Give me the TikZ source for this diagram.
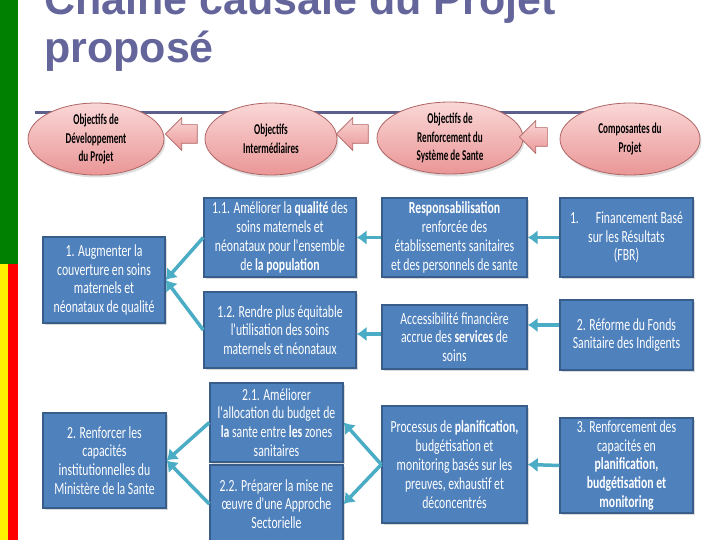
\documentclass[tikz,border=0pt]{standalone}
\usepackage{fontspec}
\setmainfont{Carlito}
\newfontfamily\titlefam{Liberation Sans}
\newfontfamily\boxfam[FakeStretch=0.69]{Carlito}
\newfontfamily\ellfam[FakeStretch=0.61]{Carlito}
\usetikzlibrary{shapes.geometric,shapes.arrows,shadows,arrows.meta}
\definecolor{titlecol}{RGB}{100,101,155}
\definecolor{bargreen}{RGB}{0,128,0}
\definecolor{boxblue}{RGB}{79,129,189}
\definecolor{boxedge}{RGB}{56,93,138}
\definecolor{teal}{RGB}{75,172,198}
\definecolor{pinktop}{RGB}{250,215,215}
\definecolor{pinkbot}{RGB}{234,150,150}
\definecolor{pinkedge}{RGB}{175,100,100}
\definecolor{slateline}{RGB}{92,95,140}
\tikzset{
  bluebox/.style={draw=boxedge, line width=1.4pt, fill=boxblue, text=white,
    align=center, inner sep=0pt, font=\boxfam\fontsize{17}{18.8}\selectfont,
    drop shadow={shadow xshift=2pt, shadow yshift=-2pt, opacity=0.3}},
  pinkell/.style={ellipse, draw=pinkedge, line width=0.8pt, top color=pinktop,
    bottom color=pinkbot, align=center, inner sep=0pt, text=black,
    font=\ellfam\bfseries\fontsize{15}{18.5}\selectfont,
    drop shadow={shadow xshift=1.5pt, shadow yshift=-2.5pt, opacity=0.25}},
  blockarrow/.style={single arrow, shape border rotate=180, draw=pinkedge,
    line width=0.7pt, top color=pinktop, bottom color=pinkbot,
    inner sep=9pt, single arrow head extend=7pt, minimum height=32pt},
  conn/.style={draw=teal, line width=3.5pt, -{Latex[length=10pt,width=15pt]}}
}
\begin{document}
\begin{tikzpicture}[x=1pt,y=-1pt]
\useasboundingbox (0,0) rectangle (720,540);
\clip (0,0) rectangle (720,540);
% left bars
\fill[bargreen] (0,0) rectangle (18,264);
\fill[yellow] (0,264) rectangle (8,540);
\fill[red] (8,264) rectangle (18,540);
% title
\node[anchor=base west, inner sep=0pt, text=titlecol, font=\titlefam\bfseries\fontsize{43}{48}\selectfont] (t1) at (44,15) {Chaine causale du Projet};
\node[anchor=base west, inner sep=0pt, text=titlecol, font=\titlefam\bfseries\fontsize{43}{48}\selectfont] (t2) at (44,63) {proposé};
% horizontal rule
\coordinate (r1) at (35,113);
\coordinate (r2) at (640,113);
\draw[slateline, line width=3pt] (r1) -- (r2);
% ellipses
\node[pinkell, minimum width=136pt, minimum height=72pt] (e1) at (96,139) {Objectifs de\\Développement\\du Projet};
\node[pinkell, minimum width=132pt, minimum height=72pt] (e2) at (271,139) {Objectifs\\Intermédiaires};
\node[pinkell, minimum width=146pt, minimum height=72pt] (e3) at (450,138) {Objectifs de\\Renforcement du\\Système de Sante};
\node[pinkell, minimum width=140pt, minimum height=72pt] (e4) at (630,139) {Composantes du\\Projet};
% block arrows
\node[blockarrow] (a1) at (186,134) {};
\node[blockarrow] (a2) at (357,134) {};
\node[blockarrow, minimum height=28pt] (a3) at (538,137) {};
% column A
\node[bluebox, minimum width=122pt, minimum height=86pt] (A1) at (104,280) {1. Augmenter la\\couverture en soins\\maternels et\\néonataux de qualité};
\node[bluebox, minimum width=123pt, minimum height=95pt] (A2) at (104.5,460.5) {2. Renforcer les\\capacités\\institutionnelles du\\Ministère de la Sante};
% column B
\node[bluebox, minimum width=152pt, minimum height=79pt] (B1) at (280,237.5) {1.1. Améliorer la \textbf{qualité} des\\soins maternels et\\néonataux pour l'ensemble\\de \textbf{la population}};
\node[bluebox, minimum width=152pt, minimum height=76pt] (B2) at (280,330) {1.2. Rendre plus équitable\\l'utilisation des soins\\maternels et néonataux};
\node[bluebox, minimum width=133pt, minimum height=79pt] (B3) at (276.5,422.5) {2.1. Améliorer\\l'allocation du budget de\\\textbf{la} sante entre \textbf{les} zones\\sanitaires};
\node[bluebox, minimum width=133pt, minimum height=78pt] (B4) at (276.5,504) {2.2. Préparer la mise ne\\œuvre d'une Approche\\Sectorielle};
% column C
\node[bluebox, minimum width=145pt, minimum height=79pt] (C1) at (454.5,237.5) {\textbf{Responsabilisation}\\renforcée des\\établissements sanitaires\\et des personnels de sante};
\node[bluebox, minimum width=145pt, minimum height=64pt] (C2) at (454.5,337) {Accessibilité financière\\accrue des \textbf{services} de\\soins};
\node[bluebox, minimum width=145pt, minimum height=117pt] (C3) at (454.5,464.5) {Processus de \textbf{planification,}\\budgétisation et\\monitoring basés sur les\\preuves, exhaustif et\\déconcentrés};
% column D
\node[bluebox, minimum width=133pt, minimum height=79pt] (D1) at (626.5,237.5) {1.\quad Financement Basé\\sur les Résultats\\(FBR)};
\node[bluebox, minimum width=133pt, minimum height=70pt] (D2) at (626.5,335) {2. Réforme du Fonds\\Sanitaire des Indigents};
\node[bluebox, minimum width=133pt, minimum height=95pt] (D3) at (626.5,465.5) {3. Renforcement des\\capacités en\\\textbf{planification,}\\\textbf{budgétisation et}\\\textbf{monitoring}};
% connectors
\draw[conn] (B1.west) -- (A1.east);
\draw[conn] (B2.west) -- (A1.east);
\draw[conn] (B3.west) -- (A2.east);
\draw[conn] (B4.west) -- (A2.east);
\draw[conn] (C1.west) -- (B1.east);
\draw[conn] ([yshift=3pt]C2.west) -- ([yshift=3pt]C2.west -| B2.east);
\draw[conn] (C3.west) -- (B3.east);
\draw[conn] (C3.west) -- (B4.east);
\draw[conn] (D1.west) -- (C1.east);
\draw[conn] ([yshift=10pt]D2.west) -- ([yshift=10pt]D2.west -| C2.east);
\draw[conn] (D3.west) -- (C3.east);
\end{tikzpicture}
\end{document}
